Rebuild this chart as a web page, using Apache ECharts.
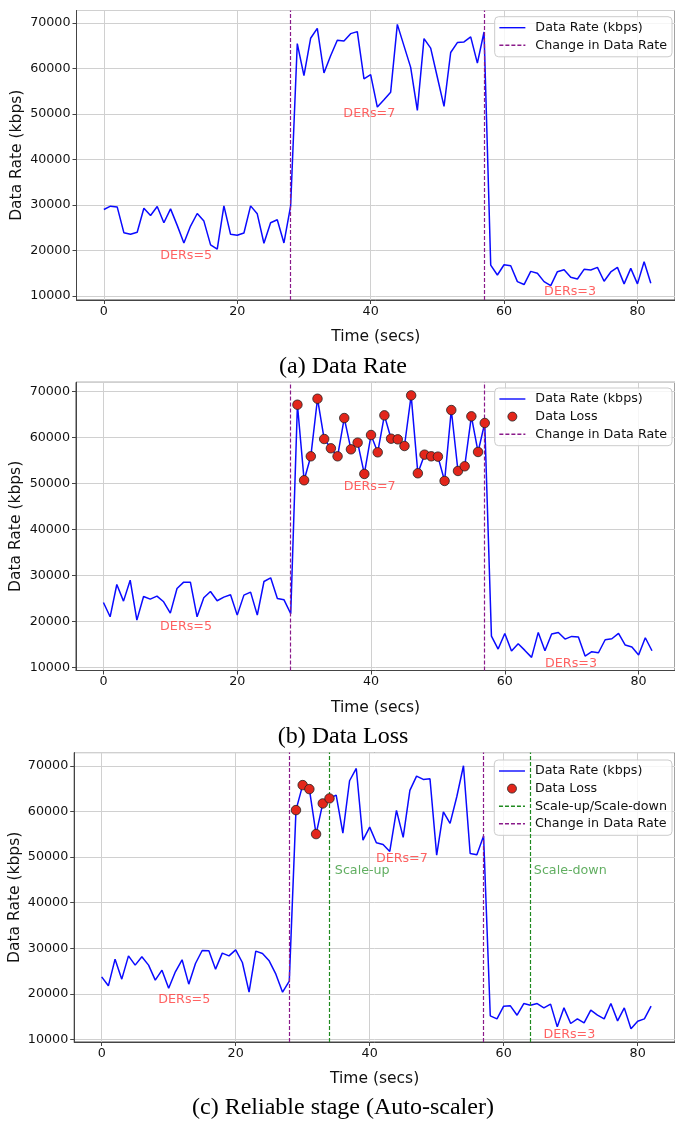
<!DOCTYPE html>
<html><head><meta charset="utf-8">
<script src="https://cdn.jsdelivr.net/npm/echarts@6/dist/echarts.min.js"></script>
<style>html,body{margin:0;padding:0;background:#fff}#c{width:675px;height:1121px}</style>
</head><body><div id="c"></div>
<script>
// ---------------- data ----------------
// Data rate (kbps), one value per second, t = 0 .. 82
const rateA = [29010,29740,29590,23930,23570,24010,29300,27710,29670,26110,
  29160,25530,21680,25380,28140,26470,21250,20300,29810,23570,
  23350,23860,29810,28070,21610,26110,26760,21680,29740,
  65440,58400,66600,68780,58980,62760,66170,66020,67620,68060,
  57680,58620,51510,53110,54780,69650,64940,60220,50780,66530,
  64430,58040,51650,63480,65660,65810,66900,61160,67980,
  16820,14640,16890,16680,13190,12540,15440,15010,13190,12320,
  15370,15810,14140,13770,15880,15730,16310,13270,15300,16310,
  12690,16100,12690,17550,12830];
const rateB = [24110,21000,28020,24400,28960,20280,25420,24840,25490,24260,
  21800,27150,28530,28530,21000,25130,26500,24480,25270,25780,
  21360,25710,26360,21360,28670,29470,24980,24690,21650,
  67110,50680,55890,68410,59650,57630,55890,64210,57410,58860,
  52050,60520,56760,64790,59720,59580,58130,69130,52200,56250,
  55890,55820,50530,65950,52700,53720,64580,56830,63130,
  16800,13980,17380,13550,15140,13690,12170,17600,13620,17240,
  17600,16150,16730,16590,12460,13400,13180,16010,16220,17380,
  14850,14420,12680,16440,13620];
const rateC = [23740,21770,27610,23230,28340,26300,28120,26300,23010,25200,
  21250,24840,27470,22130,26660,29510,29440,25420,28930,28340,
  29660,26880,20380,29370,28850,27250,24320,20380,22790,
  60280,65760,64880,55020,61740,62840,63570,55240,66710,69410,
  53700,56550,53120,52750,51220,60210,54290,64590,67730,67000,
  67150,50410,59910,57360,63200,70000,50780,50490,54580,
  15190,14530,17310,17380,15330,17890,17530,17890,16940,17750,
  12780,16940,13510,14530,13650,16430,15330,14530,17890,14090,
  16940,12340,14020,14530,17310];
// seconds at which data loss was marked
const lossTimesB = [29,30,31,32,33,34,35,36,37,38,39,40,41,42,43,44,45,46,47,48,49,50,51,52,53,54,55,56,57];
const lossTimesC = [29,30,31,32,33,34];
// event times
const changeTimes = [28, 57];
const scaleTimes = [34, 64];
// texts
const derLabels = ['DERs=5', 'DERs=7', 'DERs=3'];
const scaleLabels = ['Scale-up', 'Scale-down'];
const captions = ['(a) Data Rate', '(b) Data Loss', '(c) Reliable stage (Auto-scaler)'];
const seriesNames = ['Data Rate (kbps)', 'Data Loss', 'Scale-up/Scale-down', 'Change in Data Rate'];
const xTitle = 'Time (secs)';
const yTitle = 'Data Rate (kbps)';

// ---------------- layout / style ----------------
const FONT = 'DejaVu Sans';
const TXT = '#111';
const panels = [
  {rate: rateA, loss: null, scale: false,
   grid: {left: 76.5, top: 10.5, width: 598.5, height: 289.5}, x: [-4.1, 85.63], y: [9150, 72700],
   der: [[12.35, 18810], [39.8, 49980], [69.9, 10910]], legendTop: 16.7, capY: 367, yGap: 52},
  {rate: rateB, loss: lossTimesB, scale: false,
   grid: {left: 76, top: 382.3, width: 599, height: 288.2}, x: [-4.1, 85.44], y: [9320, 71980],
   der: [[12.35, 18840], [39.8, 49370], [69.9, 10885]], legendTop: 388, capY: 737, yGap: 52},
  {rate: rateC, loss: lossTimesC, scale: true,
   grid: {left: 74.2, top: 752.6, width: 600.8, height: 289.4}, x: [-4.1, 85.57], y: [9457, 72883],
   der: [[12.33, 18820], [44.8, 49570], [69.8, 10990]], scalePos: [[34.8, 47090], [64.5, 47050]],
   legendTop: 760, capY: 1108, yGap: 51.5}
];

const grids = [], xAxes = [], yAxes = [], series = [], legends = [], graphics = [];
panels.forEach((p, i) => {
  grids.push(Object.assign({show: true, borderColor: '#444', borderWidth: 1, backgroundColor: 'transparent',
    containLabel: false, outerBoundsMode: 'none'}, p.grid));
  xAxes.push({type: 'value', gridIndex: i, min: p.x[0], max: p.x[1], splitNumber: 5,
    name: xTitle, nameLocation: 'middle', nameGap: 29, nameMoveOverlap: false,
    nameTextStyle: {fontFamily: FONT, fontSize: 15.5, color: TXT},
    axisLine: {show: true, onZero: false, lineStyle: {color: '#444', width: 1}},
    axisTick: {show: true, length: 4, lineStyle: {color: '#444'}},
    axisLabel: {show: true, margin: 5, fontFamily: FONT, fontSize: 12.7, color: TXT, showMinLabel: false, showMaxLabel: false,
      formatter: v => String(v)},
    splitLine: {show: true, lineStyle: {color: '#d0d0d0', width: 1}}});
  yAxes.push({type: 'value', gridIndex: i, min: p.y[0], max: p.y[1], splitNumber: 6,
    name: yTitle, nameLocation: 'middle', nameGap: p.yGap, nameRotate: 90, nameMoveOverlap: false,
    nameTextStyle: {fontFamily: FONT, fontSize: 15.5, color: TXT},
    axisLine: {show: true, onZero: false, lineStyle: {color: '#444', width: 1}},
    axisTick: {show: true, length: 4, lineStyle: {color: '#444'}},
    axisLabel: {show: true, margin: 6, fontFamily: FONT, fontSize: 12.7, color: TXT, showMinLabel: false, showMaxLabel: false,
      formatter: v => String(v)},
    splitLine: {show: true, lineStyle: {color: '#d0d0d0', width: 1}}});

  series.push({type: 'line', name: seriesNames[0], xAxisIndex: i, yAxisIndex: i,
    data: p.rate.map((v, t) => [t, v]), symbol: 'none', z: 3,
    lineStyle: {color: '#0a0aff', width: 1.5}, itemStyle: {color: '#0a0aff'}});
  if (p.loss) {
    series.push({type: 'scatter', name: seriesNames[1], xAxisIndex: i, yAxisIndex: i,
      data: p.loss.map(t => [t, p.rate[t]]), symbol: 'circle', symbolSize: 9.5, z: 5,
      itemStyle: {color: '#e3261b', borderColor: '#222', borderWidth: 0.8, opacity: 1}});
  }
  if (p.scale) {
    series.push({type: 'line', name: seriesNames[2], xAxisIndex: i, yAxisIndex: i, data: [], symbol: 'none', z: 4,
      lineStyle: {color: '#1f8a1f', width: 1.2, type: [4, 2]}, itemStyle: {color: '#1f8a1f'},
      markLine: {silent: true, symbol: ['none', 'none'], label: {show: false}, animation: false,
        lineStyle: {color: '#1f8a1f', width: 1.2, type: [4, 2]},
        data: scaleTimes.map(t => ({xAxis: t}))}});
  }
  series.push({type: 'line', name: seriesNames[3], xAxisIndex: i, yAxisIndex: i, data: [], symbol: 'none', z: 4,
    lineStyle: {color: '#8a1a8a', width: 1.2, type: [4, 2]}, itemStyle: {color: '#8a1a8a'},
    markLine: {silent: true, symbol: ['none', 'none'], label: {show: false}, animation: false,
      lineStyle: {color: '#8a1a8a', width: 1.2, type: [4, 2]},
      data: changeTimes.map(t => ({xAxis: t}))}});
  // text annotations placed in data coordinates
  series.push({type: 'scatter', name: 'der' + i, xAxisIndex: i, yAxisIndex: i, symbolSize: 0, z: 6, silent: true,
    data: derLabels.map((s, k) => ({name: s, value: p.der[k]})),
    label: {show: true, position: 'inside', formatter: '{b}', fontFamily: FONT, fontSize: 12.7, color: '#ff3b3b'}});
  if (p.scale) {
    series.push({type: 'scatter', name: 'scl' + i, xAxisIndex: i, yAxisIndex: i, symbolSize: 0, z: 6, silent: true,
      data: scaleLabels.map((s, k) => ({name: s, value: p.scalePos[k]})),
      label: {show: true, position: 'inside', align: 'left', formatter: '{b}', fontFamily: FONT, fontSize: 12.7, color: '#3a9a3a'}});
  }

  const names = [seriesNames[0]];
  if (p.loss) names.push(seriesNames[1]);
  if (p.scale) names.push(seriesNames[2]);
  names.push(seriesNames[3]);
  legends.push({orient: 'vertical', right: 3, top: p.legendTop, itemWidth: 26, itemHeight: 9, itemGap: 4.6,
    padding: [4.5, 5, 5, 4], backgroundColor: 'rgba(255,255,255,0.8)', borderColor: '#cccccc', borderWidth: 1,
    borderRadius: 4, selectedMode: false,
    itemStyle: {borderWidth: 0.8},
    lineStyle: {width: 1.4},
    textStyle: {fontFamily: FONT, fontSize: 12.7, color: TXT, padding: [0, 0, 0, 5]},
    data: names.map(n => n === seriesNames[1] ? {name: n} : {name: n, itemStyle: {opacity: 0}})});

  graphics.push({type: 'text', x: 343, y: p.capY,
    style: {text: captions[i], font: '24px "Liberation Serif"', fill: '#000', textAlign: 'center', textVerticalAlign: 'middle'}});
});

const chart = echarts.init(document.getElementById('c'), null, {renderer: 'canvas'});
chart.setOption({
  animation: false,
  backgroundColor: '#fff',
  grid: grids, xAxis: xAxes, yAxis: yAxes, series: series, legend: legends, graphic: graphics
});
</script></body></html>
